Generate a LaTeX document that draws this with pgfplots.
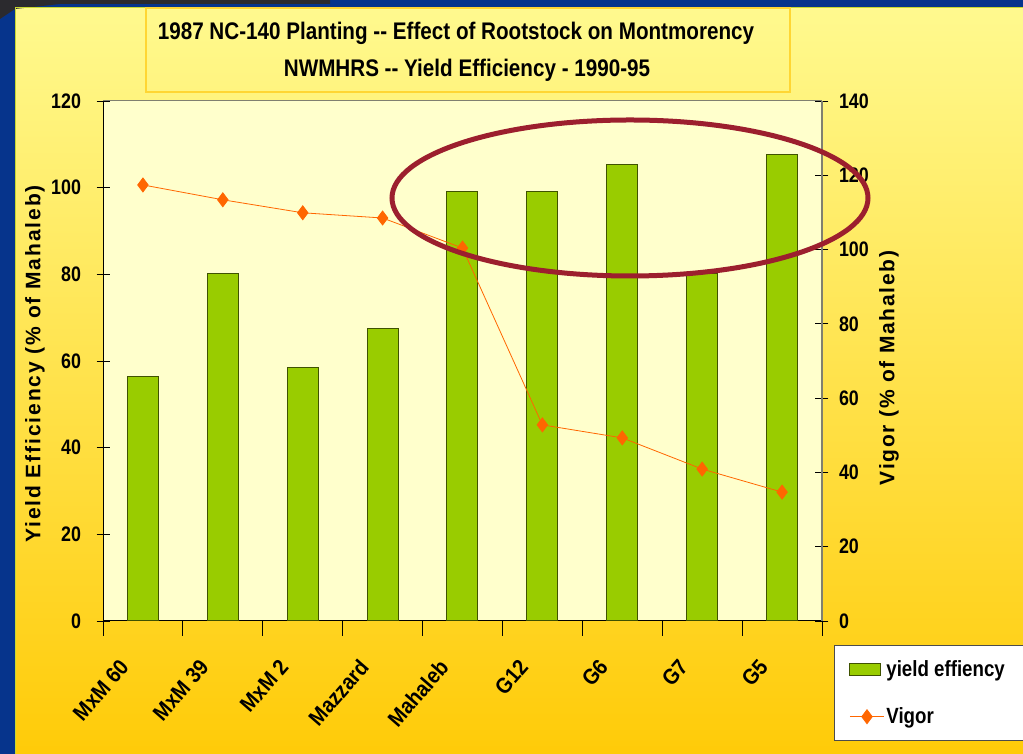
\documentclass[border=0pt]{standalone}
\usepackage{pgfplots}
\pgfplotsset{compat=1.18}
\usepackage{fontspec}
\setmainfont{Liberation Sans}
\newfontfamily\nar{Liberation Sans}[FakeStretch=0.85]
\newfontfamily\nart{Liberation Sans}[FakeStretch=0.86]
\newfontfamily\narx{Liberation Sans}[FakeStretch=0.9]
\newfontfamily\spl{Liberation Sans}[LetterSpace=9]
\newfontfamily\spr{Liberation Sans}[LetterSpace=8]
\definecolor{bgtop}{HTML}{FFFA90}
\definecolor{bgbot}{HTML}{FFCB08}
\definecolor{slideblue}{HTML}{06348C}
\definecolor{photo}{HTML}{2B2A2E}
\definecolor{framegreen}{HTML}{C8D830}
\definecolor{titleborder}{HTML}{FFD633}
\definecolor{plotbg}{HTML}{FFFFCC}
\definecolor{barfill}{HTML}{99CC00}
\definecolor{baredge}{HTML}{3F5200}
\definecolor{vigorcol}{HTML}{FF6600}
\definecolor{ellcol}{HTML}{9C1F2E}
\definecolor{axisgray}{HTML}{808070}
\pgfplotsset{
  lineleg/.style={legend image code/.code={\draw[mark repeat=2,mark phase=2,##1] plot coordinates {(0pt,0pt) (17pt,0pt) (34pt,0pt)};}},
  barleg/.style={legend image code/.code={\draw[##1] (0pt,-6pt) rectangle (31pt,6pt);}},
}
\begin{document}
\begin{tikzpicture}[x=1pt,y=1pt]
\clip (0,0) rectangle (1023,754);
\shade[top color=bgtop, bottom color=bgbot] (0,0) rectangle (1023,754);
\fill[slideblue] (0,0) rectangle (15,754);
\fill[slideblue] (0,747) rectangle (1023,754);
\fill[photo] (0,754) -- (330,754) -- (330,750) -- (60,750) -- (15,745) -- (0,735) -- cycle;
\draw[framegreen, line width=1pt] (15.5,0) -- (15.5,746.5) -- (1023,746.5);
\draw[titleborder, line width=1.5pt] (146,662) rectangle (790,746);
\node[font=\nart\bfseries\fontsize{24}{28}\selectfont] at (456,721) {1987 NC-140 Planting -{}- Effect of Rootstock on Montmorency};
\node[font=\nart\bfseries\fontsize{24}{28}\selectfont] at (467,684) {NWMHRS -{}- Yield Efficiency - 1990-95};

\begin{axis}[
  at={(103pt,133pt)}, anchor=south west,
  scale only axis, width=719pt, height=520pt,
  xmin=-0.5, xmax=8.5, ymin=0, ymax=120,
  axis x line*=bottom, axis y line*=left,
  axis line style={black, line width=1pt},
  axis background/.style={fill=plotbg},
  ytick={0,20,...,120},
  xtick={0,...,8},
  xticklabels={MxM 60,MxM 39,MxM 2,Mazzard,Mahaleb,G12,G6,G7,G5},
  minor xtick={-0.5,0.5,...,8.5},
  major x tick style={draw=none},
  tick align=center,
  major tick length=13pt, minor tick length=15pt,
  tick style={black, line width=0.8pt},
  /pgf/number format/assume math mode=true,
  yticklabel style={font=\nar\bfseries\fontsize{21}{24}\selectfont, xshift=-12pt},
  xticklabel style={font=\narx\bfseries\fontsize{22}{24}\selectfont, xshift=-25pt, yshift=-19pt, rotate=49, anchor=north east},
  ybar, bar width=31pt,
]
\addplot[fill=barfill, draw=baredge, line width=1pt] coordinates {
(0,56.5) (1,80.3) (2,58.4) (3,67.6) (4,99.2) (5,99.2) (6,105.4) (7,80.2) (8,107.7)};
\end{axis}

\begin{axis}[
  at={(103pt,133pt)}, anchor=south west,
  scale only axis, width=719pt, height=520pt,
  xmin=-0.5, xmax=8.5, ymin=0, ymax=140,
  axis x line=none, axis y line*=right,
  y axis line style={axisgray, line width=1.5pt},
  ytick={0,20,...,140},
  tick align=center,
  major tick length=13pt,
  tick style={black, line width=0.8pt},
  /pgf/number format/assume math mode=true,
  yticklabel style={font=\nar\bfseries\fontsize{21}{24}\selectfont, xshift=7pt},
  legend style={at={(1.0167,-0.0462)}, anchor=north west, draw=black!70, line width=1pt, fill=white,
    font=\nar\bfseries\fontsize{22}{24}\selectfont, inner xsep=15pt, inner ysep=13pt, row sep=26pt},
  legend cell align=left,
]
\addlegendimage{barleg, fill=barfill, draw=baredge, line width=1pt}
\addlegendentry{yield effiency\hspace*{30pt}}
\addplot[vigorcol, line width=0.8pt, mark=diamond*, mark size=7pt, mark options={fill=vigorcol, draw=vigorcol}, lineleg]
 coordinates {
(0,117.4) (1,113.4) (2,109.9) (3,108.5) (4,100.4) (5,52.8) (6,49.3) (7,40.9) (8,34.7)};
\addlegendentry{Vigor}
\end{axis}
\draw[axisgray, line width=1pt] (103,653) -- (822,653);
\draw[ellcol, line width=5pt] (630,556) ellipse [x radius=238, y radius=78];
\node[rotate=90, font=\spl\bfseries\fontsize{21}{24}\selectfont] at (35,390) {Yield Efficiency (\% of Mahaleb)};
\node[rotate=90, font=\spr\bfseries\fontsize{21}{24}\selectfont] at (889,386) {Vigor (\% of Mahaleb)};
\end{tikzpicture}
\end{document}
